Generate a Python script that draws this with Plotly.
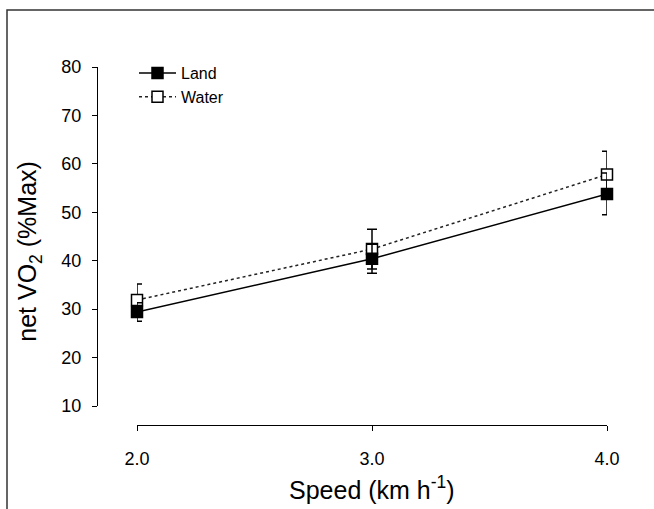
import plotly.graph_objects as go

speed = [2.0, 3.0, 4.0]
land = [29.4, 40.4, 53.8]
land_err = [1.9, 3.0, 4.3]
water = [31.9, 42.4, 57.8]
water_err = [3.3, 4.1, 4.8]
x_ticks = [2.0, 3.0, 4.0]
x_tick_labels = ["2.0", "3.0", "4.0"]
y_ticks = [10, 20, 30, 40, 50, 60, 70, 80]

W, H = 654, 509
L, R, T, B = 97, 47, 67, 83.5
pw = W - L - R
ph = H - T - B
font = "Liberation Sans, Arial, sans-serif"

fig = go.Figure()
fig.add_trace(go.Scatter(
    x=speed, y=water, name="Water", mode="lines+markers",
    line=dict(color="#222", width=1.5, dash="dot"),
    marker=dict(symbol="square", size=11, color="white", line=dict(color="black", width=1.5)),
    error_y=dict(type="data", array=water_err, color="black", thickness=1.5, width=5),
    cliponaxis=False, legendrank=2,
))
fig.add_trace(go.Scatter(
    x=speed, y=land, name="Land", mode="lines+markers",
    line=dict(color="black", width=1.5),
    marker=dict(symbol="square", size=11, color="black", line=dict(color="black", width=1.5)),
    error_y=dict(type="data", array=land_err, color="black", thickness=1.5, width=5),
    cliponaxis=False, legendrank=1,
))

xd0 = (137 - L) / pw
yd0 = (425.5 - 406.5) / ph

fig.update_layout(
    width=W, height=H,
    margin=dict(l=L, r=R, t=T, b=B, pad=0),
    paper_bgcolor="white", plot_bgcolor="white",
    font=dict(family=font, color="black", size=18),
    showlegend=True,
    legend=dict(x=(134 - L) / pw, y=1 + (T - 56) / ph, xanchor="left", yanchor="top",
                bgcolor="rgba(0,0,0,0)", font=dict(size=16), tracegroupgap=0,
                itemwidth=37),
    xaxis=dict(domain=[xd0, 1], range=[2, 4], anchor="free", position=0,
               showline=True, linecolor="black", linewidth=1.3,
               ticks="outside", ticklen=5, tickcolor="black", tickwidth=1.3,
               tickvals=x_ticks, ticktext=x_tick_labels, showgrid=False, zeroline=False,
               tickfont=dict(size=18), ticklabelstandoff=12),
    yaxis=dict(domain=[yd0, 1], range=[10, 80], anchor="free", position=0,
               showline=True, linecolor="black", linewidth=1.3,
               ticks="outside", ticklen=5, tickcolor="black", tickwidth=1.3,
               tickvals=y_ticks, showgrid=False, zeroline=False,
               tickfont=dict(size=18), ticklabelstandoff=7),
)

# axis titles
fig.add_annotation(text="Speed (km h<sup>-1</sup>)", xref="paper", yref="paper",
                   x=(xd0 + 1) / 2, y=(425.5 - 489) / ph, xanchor="center", yanchor="middle",
                   showarrow=False, font=dict(size=25))
fig.add_annotation(text="net VO<sub>2</sub> (%Max)", xref="paper", yref="paper",
                   x=(29 - L) / pw, y=(425.5 - 252) / ph, xanchor="center", yanchor="middle",
                   textangle=-90, showarrow=False, font=dict(size=25))

# outer frame of the figure panel
fig.add_shape(type="rect", xref="paper", yref="paper",
              x0=(7 - L) / pw, x1=(W + 10 - L) / pw,
              y0=(425.5 - (H + 10)) / ph, y1=1 + (T - 10) / ph,
              line=dict(color="#333", width=1.5), layer="below")

fig.write_html("out.html")
